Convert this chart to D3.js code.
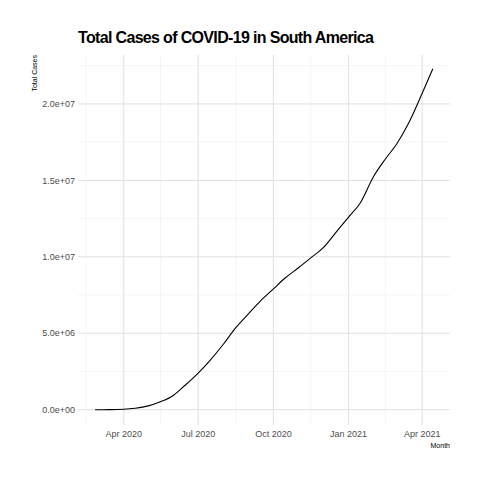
<!DOCTYPE html>
<html><head><meta charset="utf-8">
<script src="https://cdn.jsdelivr.net/npm/d3@7"></script>
<style>body{margin:0;background:#fff}svg{font-family:"Liberation Sans",Arial,sans-serif}</style>
</head><body><svg width="480" height="480"></svg>
<script>
// Cumulative cases
const dates = ['2020-02-26','2020-03-15','2020-04-01','2020-04-15','2020-05-01','2020-05-15','2020-06-01','2020-06-15','2020-07-01','2020-07-15','2020-08-01','2020-08-15','2020-09-01','2020-09-15','2020-10-01','2020-10-15','2020-11-01','2020-11-15','2020-12-01','2020-12-15','2021-01-01','2021-01-15','2021-02-01','2021-02-15','2021-03-01','2021-03-15','2021-04-01','2021-04-14'];
const cases = [0,3e3,3e4,1e5,2.5e5,5e5,0.95e6,1.6e6,2.4e6,3.2e6,4.3e6,5.3e6,6.3e6,7.1e6,7.9e6,8.6e6,9.3e6,9.9e6,10.6e6,11.5e6,12.6e6,13.5e6,15.3e6,16.4e6,17.4e6,18.7e6,20.7e6,22.3e6];
const yTicks = [0, 5e6, 1e7, 1.5e7, 2e7];
const yLabels = ['0.0e+00','5.0e+06','1.0e+07','1.5e+07','2.0e+07'];
const xTicks = ['2020-04-01','2020-07-01','2020-10-01','2021-01-01','2021-04-01'];
const xLabels = ['Apr 2020','Jul 2020','Oct 2020','Jan 2021','Apr 2021'];

const parse = d3.timeParse('%Y-%m-%d');
const data = dates.map((d, i) => ({ date: parse(d), v: cases[i] }));
const svg = d3.select('svg');
const pL = 78, pR = 450, pT = 55, pB = 425;

const x = d3.scaleTime()
  .domain([parse('2020-02-05'), parse('2021-05-05')])
  .range([pL, pR]);
const y = d3.scaleLinear().domain([-1.0e6, 2.32e7]).range([pB, pT]);

// Grid
const minorY = d3.range(-2.5e6, 2.4e7, 2.5e6).filter(v => v % 5e6 !== 0 && y(v) >= pT && y(v) <= pB);
svg.selectAll('.gy').data(minorY).enter().append('line')
  .attr('x1', pL).attr('x2', pR).attr('y1', d => y(d)).attr('y2', d => y(d))
  .attr('stroke', '#ebebeb').attr('stroke-width', 0.5);
const minorX = ['2020-02-15','2020-05-16','2020-08-16','2020-11-16','2021-02-15'].map(parse);
svg.selectAll('.gx').data(minorX).enter().append('line')
  .attr('y1', pT).attr('y2', pB).attr('x1', d => x(d)).attr('x2', d => x(d))
  .attr('stroke', '#ebebeb').attr('stroke-width', 0.5);
svg.selectAll('.Gy').data(yTicks).enter().append('line')
  .attr('x1', pL).attr('x2', pR).attr('y1', d => y(d)).attr('y2', d => y(d))
  .attr('stroke', '#e0e0e0').attr('stroke-width', 1);
svg.selectAll('.Gx').data(xTicks).enter().append('line')
  .attr('y1', pT).attr('y2', pB).attr('x1', d => x(parse(d))).attr('x2', d => x(parse(d)))
  .attr('stroke', '#e0e0e0').attr('stroke-width', 1);

// Labels
svg.selectAll('.ly').data(yTicks).enter().append('text')
  .attr('x', pL - 3).attr('y', d => y(d)).attr('dy', '0.35em')
  .attr('text-anchor', 'end').attr('font-size', 9).attr('fill', '#4d4d4d')
  .text((d, i) => yLabels[i]);
svg.selectAll('.lx').data(xTicks).enter().append('text')
  .attr('x', d => x(parse(d))).attr('y', pB + 12)
  .attr('text-anchor', 'middle').attr('font-size', 9).attr('fill', '#4d4d4d')
  .text((d, i) => xLabels[i]);

// Line
svg.append('path').datum(data)
  .attr('fill', 'none').attr('stroke', '#000').attr('stroke-width', 1.1)
  .attr('d', d3.line().x(d => x(d.date)).y(d => y(d.v)).curve(d3.curveMonotoneX));

// Titles
svg.append('text').attr('x', pL).attr('y', 43).attr('font-size', 16).attr('font-weight', 'bold')
  .attr('textLength', 296).text('Total Cases of COVID-19 in South America');
svg.append('text').attr('transform', 'translate(37,' + pT + ') rotate(-90)')
  .attr('text-anchor', 'end').attr('font-size', 7).text('Total Cases');
svg.append('text').attr('x', pR).attr('y', 448).attr('text-anchor', 'end')
  .attr('font-size', 7).text('Month');
</script></body></html>
